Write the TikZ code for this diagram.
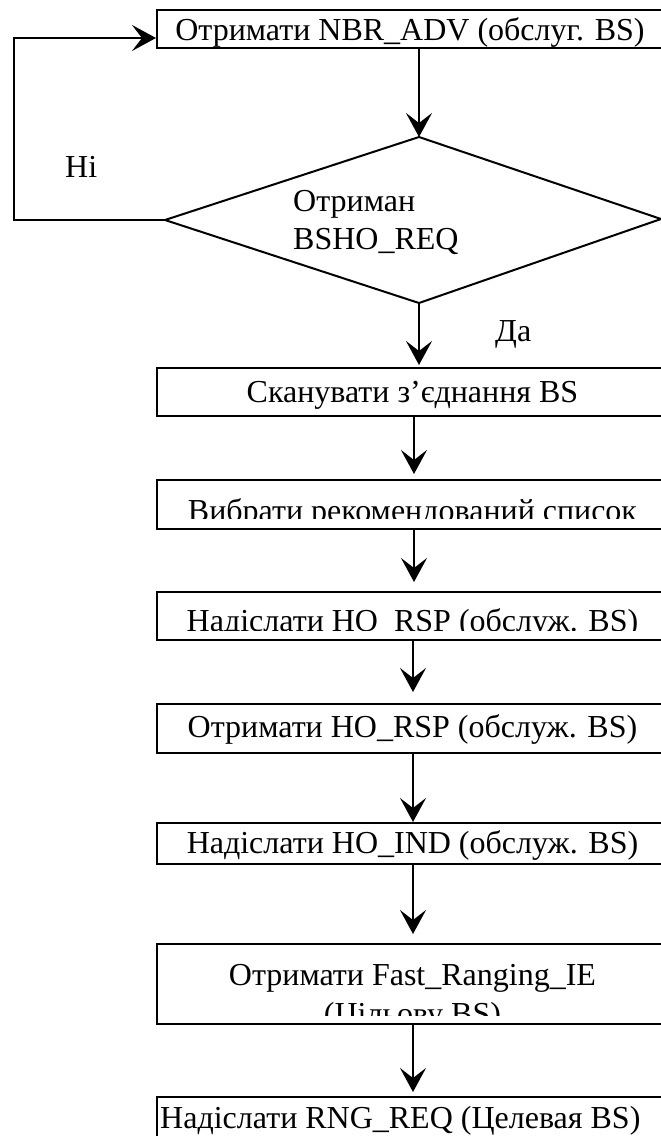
\documentclass[tikz,border=0pt]{standalone}
\usepackage{fontspec}
\setmainfont{Liberation Serif}
\usetikzlibrary{arrows.meta}
\begin{document}
\begin{tikzpicture}[x=1pt,y=-1pt,
  box/.style={draw, line width=2pt, rectangle, minimum width=511pt, inner sep=0pt},
  lbl/.style={inner sep=0pt, anchor=base, font=\fontsize{32}{38}\selectfont},
  conn/.style={line width=2pt, -{Stealth[length=24pt,width=26pt,inset=10pt]}},
  edge/.style={line width=2pt, line join=miter}
]
\useasboundingbox (0,0) rectangle (661,1136);
\clip (0,0) rectangle (661,1136);

% boxes
\node[box, minimum height=38pt] (b1) at (412.5,29) {};
\node[lbl] (t1) at (410,40) {Отримати NBR\_ADV (обслуг. BS)};

\node[box, minimum height=48pt] (b2) at (412.5,392) {};
\node[lbl] (t2) at (412.5,402) {Сканувати з’єднання BS};

\node[box, minimum height=49pt] (b3) at (412.5,504.5) {};
\begin{scope}
  \clip (157,480) rectangle (668,518);
  \node[lbl] (t3) at (412.5,521) {Вибрати рекомендований список};
\end{scope}

\node[box, minimum height=48pt] (b4) at (412.5,616) {};
\begin{scope}
  \clip (157,592) rectangle (668,630);
  \node[lbl] (t4) at (412.5,631) {Надіслати HO\_RSP (обслуж. BS)};
\end{scope}

\node[box, minimum height=49pt] (b5) at (412.5,728.5) {};
\node[lbl] (t5) at (412.5,737) {Отримати HO\_RSP (обслуж. BS)};

\node[box, minimum height=41pt] (b6) at (412.5,843.5) {};
\node[lbl] (t6) at (412.5,853) {Надіслати HO\_IND (обслуж. BS)};

\node[box, minimum height=80pt] (b7) at (412.5,984) {};
\node[lbl] (t7a) at (412.5,985) {Отримати Fast\_Ranging\_IE};
\begin{scope}
  \clip (157,944) rectangle (668,1015);
  \node[lbl] (t7b) at (412.5,1024) {(Цільову BS)};
\end{scope}

\node[box, minimum height=50pt] (b8) at (412.5,1122) {};
\node[lbl, anchor=base west] (t8) at (160,1128) {Надіслати RNG\_REQ (Целевая BS)};

% decision
\coordinate (dt) at (419,137);
\coordinate (dr) at (661,219);
\coordinate (db) at (419,303);
\coordinate (dl) at (165,220);
\draw[edge] (dt) -- (dr) -- (db) -- (dl) -- cycle;
\node[lbl, anchor=base west] (dtx1) at (293,211) {Отриман};
\node[lbl, anchor=base west] (dtx2) at (293,249) {BSHO\_REQ};

\node[lbl, anchor=base west] (no) at (65,177) {Ні};
\node[lbl, anchor=base west] (yes) at (495,341) {Да};

% connectors
\coordinate (ax) at (414,0);
\coordinate (bx) at (413,0);
\coordinate (lc) at (14,220);
\draw[conn] (b1.south -| dt) -- (dt);
\draw[conn, shorten >=2pt] (db) -- (b2.north -| db);
\draw[conn] (dl) -- (lc) |- ([yshift=-9pt]b1.west);
\draw[conn, shorten >=5pt] (b2.south -| ax) -- (b3.north -| ax);
\draw[conn, shorten >=9pt] (b3.south -| ax) -- (b4.north -| ax);
\draw[conn, shorten >=11pt] (b4.south -| bx) -- (b5.north -| bx);
\draw[conn] (b5.south -| bx) -- (b6.north -| bx);
\draw[conn, shorten >=9pt] (b6.south -| bx) -- (b7.north -| bx);
\draw[conn, shorten >=4pt] (b7.south -| bx) -- (b8.north -| bx);
\end{tikzpicture}
\end{document}
